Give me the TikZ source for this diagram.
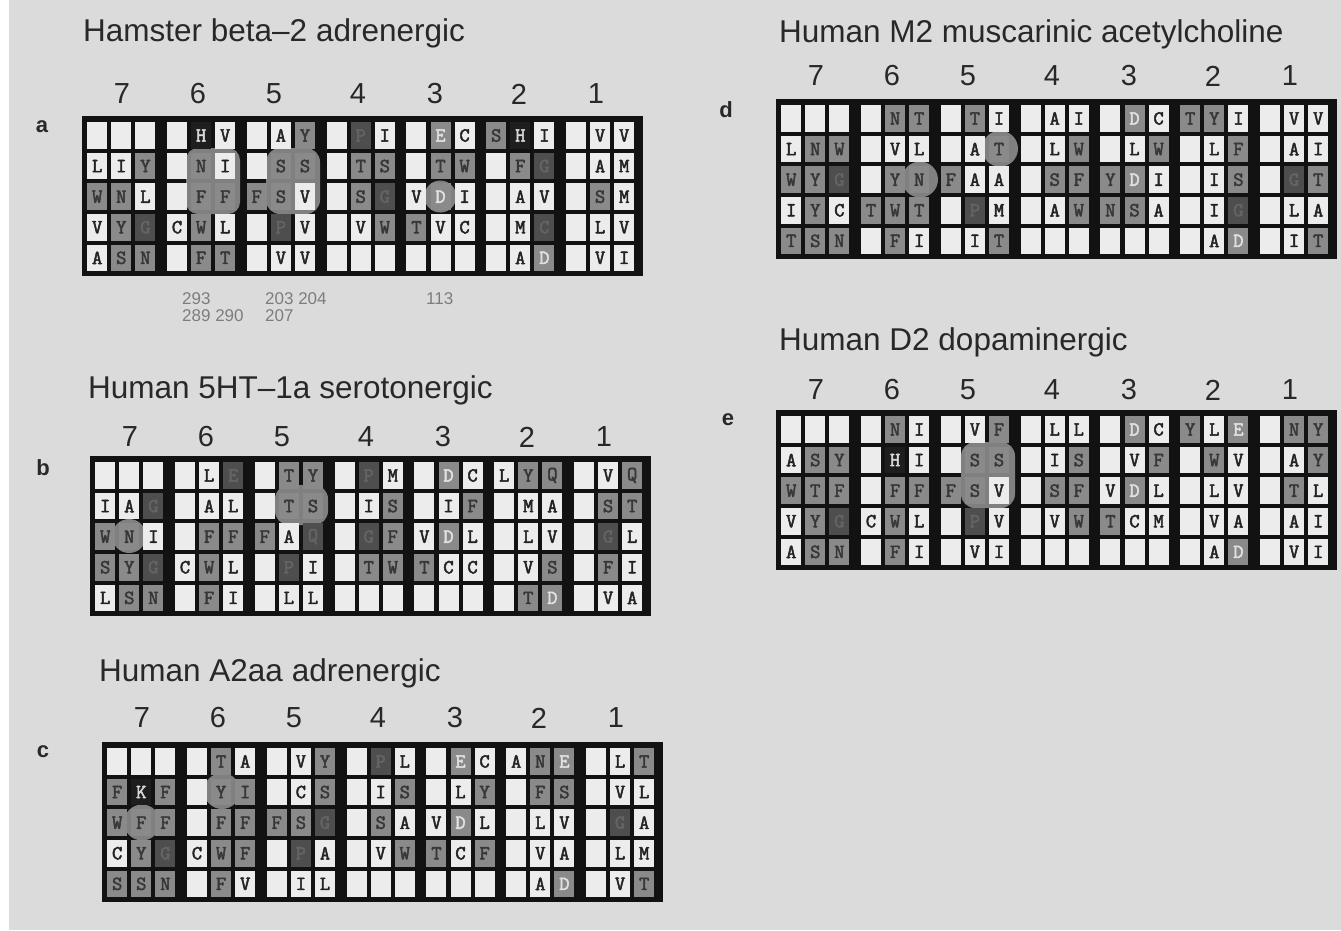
\documentclass[tikz,border=0pt]{standalone}
\usepackage{fontspec}
\setmainfont{Liberation Sans}
\newfontfamily\cellf{Latin Modern Mono}[FakeBold=2.5]
\definecolor{pagebg}{RGB}{219,219,219}
\definecolor{frameK}{RGB}{18,18,18}
\definecolor{cW}{RGB}{236,236,236}
\definecolor{cG}{RGB}{138,138,138}
\definecolor{cD}{RGB}{78,78,78}
\definecolor{cK}{RGB}{30,30,30}
\definecolor{tW}{RGB}{35,35,35}
\definecolor{tG}{RGB}{55,55,55}
\definecolor{tD}{RGB}{100,100,100}
\definecolor{tK}{RGB}{215,215,215}
\definecolor{tL}{RGB}{225,225,225}
\definecolor{blobc}{RGB}{128,128,128}
\definecolor{numgray}{RGB}{125,125,125}
\definecolor{ink}{RGB}{40,40,40}
\tikzset{
  cell/.style={rectangle,minimum width=20pt,minimum height=26.5pt,inner sep=0pt,anchor=north west,font=\cellf\fontsize{20}{20}\selectfont},
  ce/.style={cell,fill=cW,text opacity=0},
  cw/.style={cell,fill=cW,text=tW},
  cg/.style={cell,fill=cG,text=tG},
  cd/.style={cell,fill=cD,text=tD},
  ck/.style={cell,fill=cK,text=tK},
  cl/.style={cell,fill=cG,text=tL},
  panelbox/.style={rectangle,fill=frameK,minimum width=561pt,minimum height=160pt,inner sep=0pt,anchor=north west},
  blob/.style={fill=blobc},
  title/.style={anchor=base west,inner sep=0pt,font=\fontsize{31.5}{32}\selectfont,text=ink},
  helix/.style={font=\fontsize{29}{29}\selectfont,text=ink},
  plabel/.style={font=\bfseries\fontsize{22}{22}\selectfont,text=ink},
  resnum/.style={anchor=base west,inner sep=0pt,font=\fontsize{17}{17}\selectfont,text=numgray},
}
\newcommand{\pcells}[8]{%
  \foreach \rl [count=\rr from 0] in {{#4},{#5},{#6},{#7},{#8}} {
    \foreach \cs/\ct [count=\ii from 0] in \rl {
      \pgfmathtruncatemacro\grp{int((\ii+0.5)/3)}
      \pgfmathtruncatemacro\wi{\ii-3*\grp}
      \edef\cellopt{c\cs}
      \node[\cellopt] (#1-\rr-\ii) at ({#2+5+\grp*79.8+\wi*24.1},{#3+6+\rr*30.6}) {\ct};
    }
  }%
}
\newcommand{\helices}[4]{%
  \foreach \hx/\hn in {40/7,116/6,192/5,276/4,353/3,437/2,514/1}
    \node[helix] (#1-h\hn) at ({#2+\hx},{#3+#4}) {\hn};
}
\begin{document}
\begin{tikzpicture}[x=1pt,y=-1pt]
\useasboundingbox (0,0) rectangle (1341,930);
\fill[pagebg] (0,0) rectangle (1341,930);
\fill[white] (0,0) rectangle (9,930);
% titles
\node[title] (ta) at (83,41) {Hamster beta–2 adrenergic};
\node[title] (tb) at (88,398) {Human 5HT–1a serotonergic};
\node[title] (tc) at (99,681) {Human A2aa adrenergic};
\node[title] (td) at (779,42) {Human M2 muscarinic acetylcholine};
\node[title] (te) at (779,350) {Human D2 dopaminergic};
% panel letters
\node[plabel] (la) at (42,127) {a};
\node[plabel] (lb) at (43,468) {b};
\node[plabel] (lc) at (43,752) {c};
\node[plabel] (ld) at (726,110) {d};
\node[plabel] (le) at (728,420) {e};
% helix numbers
\helices{a}{82}{116}{-22}
\helices{b}{90}{456}{-19}
\helices{c}{102}{742}{-24}
\helices{d}{776}{99}{-23}
\helices{e}{776}{410}{-20}
% panel frames
\node[panelbox] (pa) at (82,116) {};
\node[panelbox] (pb) at (90,456) {};
\node[panelbox] (pc) at (102,742) {};
\node[panelbox] (pd) at (776,99) {};
\node[panelbox] (pe) at (776,410) {};
% blobs
\fill[blob,rounded corners=12pt] (186,148) rectangle (240,214);
\fill[blob,rounded corners=14pt] (266,148) rectangle (320,214);
\fill[blob] (440.3,196.5) circle[radius=16];
\fill[blob] (129.1,536) circle[radius=17];
\fill[blob,rounded corners=14pt] (275,485) rectangle (328,525);
\fill[blob] (142,822.5) circle[radius=18];
\fill[blob] (222,791) circle[radius=18];
\fill[blob] (920,179.5) circle[radius=18];
\fill[blob] (1000,148.7) circle[radius=18];
\fill[blob,rounded corners=14pt] (961,442) rectangle (1015,508);
% panel a
\pcells{a}{82}{116}
{e/x,e/x,e/x, e/x,k/H,w/V, e/x,w/A,g/Y, e/x,d/P,w/I, e/x,l/E,w/C, g/S,k/H,w/I, e/x,w/V,w/V}
{w/L,w/I,g/Y, e/x,g/N,w/I, e/x,g/S,g/S, e/x,g/T,g/S, e/x,g/T,g/W, e/x,g/F,d/G, e/x,w/A,w/M}
{g/W,g/N,w/L, e/x,g/F,g/F, g/F,g/S,w/V, e/x,g/S,d/G, w/V,l/D,w/I, e/x,w/A,w/V, e/x,g/S,w/M}
{w/V,g/Y,d/G, w/C,g/W,w/L, e/x,d/P,w/V, e/x,w/V,g/W, g/T,w/V,w/C, e/x,w/M,d/C, e/x,w/L,w/V}
{w/A,g/S,g/N, e/x,g/F,g/T, e/x,w/V,w/V, e/x,e/x,e/x, e/x,e/x,e/x, e/x,w/A,l/D, e/x,w/V,w/I}
% panel b
\pcells{b}{90}{456}
{e/x,e/x,e/x, e/x,w/L,d/E, e/x,g/T,g/Y, e/x,d/P,w/M, e/x,l/D,w/C, w/L,g/Y,g/Q, e/x,w/V,g/Q}
{w/I,w/A,d/G, e/x,w/A,w/L, e/x,g/T,g/S, e/x,w/I,g/S, e/x,w/I,g/F, e/x,w/M,w/A, e/x,g/S,g/T}
{g/W,g/N,w/I, e/x,g/F,g/F, g/F,w/A,d/Q, e/x,d/G,g/F, w/V,l/D,w/L, e/x,w/L,w/V, e/x,d/G,w/L}
{g/S,g/Y,d/G, w/C,g/W,w/L, e/x,d/P,w/I, e/x,g/T,g/W, g/T,w/C,w/C, e/x,w/V,g/S, e/x,g/F,w/I}
{w/L,g/S,g/N, e/x,g/F,w/I, e/x,w/L,w/L, e/x,e/x,e/x, e/x,e/x,e/x, e/x,g/T,l/D, e/x,w/V,w/A}
% panel c
\pcells{c}{102}{742}
{e/x,e/x,e/x, e/x,g/T,w/A, e/x,w/V,g/Y, e/x,d/P,w/L, e/x,l/E,w/C, w/A,g/N,l/E, e/x,w/L,g/T}
{g/F,k/K,g/F, e/x,g/Y,g/I, e/x,w/C,g/S, e/x,w/I,g/S, e/x,w/L,g/Y, e/x,g/F,g/S, e/x,w/V,w/L}
{g/W,g/F,g/F, e/x,g/F,g/F, g/F,g/S,d/G, e/x,g/S,w/A, w/V,l/D,w/L, e/x,w/L,w/V, e/x,d/G,w/A}
{w/C,g/Y,d/G, w/C,g/W,g/F, e/x,d/P,w/A, e/x,w/V,g/W, g/T,w/C,g/F, e/x,w/V,w/A, e/x,w/L,w/M}
{g/S,g/S,g/N, e/x,g/F,w/V, e/x,w/I,w/L, e/x,e/x,e/x, e/x,e/x,e/x, e/x,w/A,l/D, e/x,w/V,g/T}
% panel d
\pcells{d}{776}{99}
{e/x,e/x,e/x, e/x,g/N,g/T, e/x,g/T,w/I, e/x,w/A,w/I, e/x,l/D,w/C, g/T,g/Y,w/I, e/x,w/V,w/V}
{w/L,g/N,g/W, e/x,w/V,w/L, e/x,w/A,g/T, e/x,w/L,g/W, e/x,w/L,g/W, e/x,w/L,g/F, e/x,w/A,w/I}
{g/W,g/Y,d/G, e/x,g/Y,g/N, g/F,w/A,w/A, e/x,g/S,g/F, g/Y,l/D,w/I, e/x,w/I,g/S, e/x,d/G,g/T}
{w/I,g/Y,w/C, g/T,g/W,g/T, e/x,d/P,w/M, e/x,w/A,g/W, g/N,g/S,w/A, e/x,w/I,d/G, e/x,w/L,w/A}
{g/T,g/S,g/N, e/x,g/F,w/I, e/x,w/I,g/T, e/x,e/x,e/x, e/x,e/x,e/x, e/x,w/A,l/D, e/x,w/I,g/T}
% panel e
\pcells{e}{776}{410}
{e/x,e/x,e/x, e/x,g/N,w/I, e/x,w/V,g/F, e/x,w/L,w/L, e/x,l/D,w/C, g/Y,w/L,l/E, e/x,g/N,g/Y}
{w/A,g/S,g/Y, e/x,k/H,w/I, e/x,g/S,g/S, e/x,w/I,g/S, e/x,w/V,g/F, e/x,g/W,w/V, e/x,w/A,g/Y}
{g/W,g/T,g/F, e/x,g/F,g/F, g/F,g/S,w/V, e/x,g/S,g/F, w/V,l/D,w/L, e/x,w/L,w/V, e/x,g/T,w/L}
{w/V,g/Y,d/G, w/C,g/W,w/L, e/x,d/P,w/V, e/x,w/V,g/W, g/T,w/C,w/M, e/x,w/V,w/A, e/x,w/A,w/I}
{w/A,g/S,g/N, e/x,g/F,w/I, e/x,w/V,w/I, e/x,e/x,e/x, e/x,e/x,e/x, e/x,w/A,l/D, e/x,w/V,w/I}
% residue numbers
\node[resnum] (n1) at (182,304) {293};
\node[resnum] (n2) at (265,304) {203 204};
\node[resnum] (n3) at (426,304) {113};
\node[resnum] (n4) at (182,321) {289 290};
\node[resnum] (n5) at (265,321) {207};
\end{tikzpicture}
\end{document}
